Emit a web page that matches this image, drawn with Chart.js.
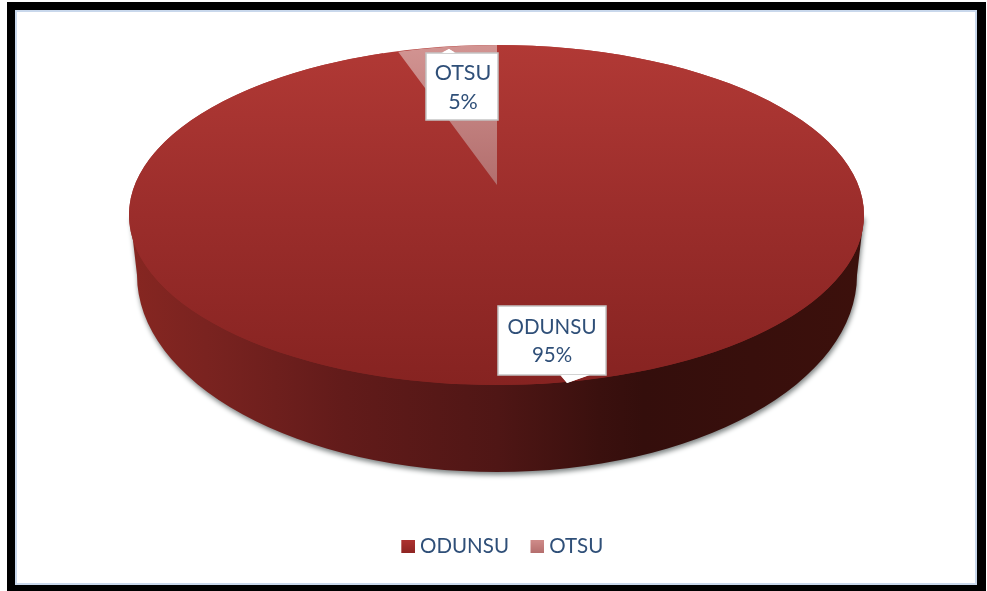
<!DOCTYPE html>
<html>
<head>
<meta charset="utf-8">
<style>html,body{margin:0;padding:0;background:#fff}canvas{display:block}</style>
<script src="https://cdn.jsdelivr.net/npm/chart.js@4"></script>
</head>
<body>
<canvas id="c" width="987" height="591"></canvas>
<script>
const categories = ['ODUNSU', 'OTSU'];
const values = [95, 5];
const legendColors = ['#a32c2a', '#c77f7e'];

const TOP = {cx: 496.5, cy: 215, rx: 367.5, ry: 170};
const BOTTOM = {cx: 497, cy: 275, rx: 360, ry: 197};
const SLICE = {cx: 497, cy: 185, rx: 320, ry: 140};
const FONT = '"Lato", "Open Sans", sans-serif';
const TEXT = '#2f4f78';

function topGradient(ctx, y0, y1) {
  const g = ctx.createLinearGradient(0, y0, 0, y1);
  g.addColorStop(0, '#b13935');
  g.addColorStop(0.5, '#9b2d2b');
  g.addColorStop(1, '#862321');
  return g;
}
function sliceColor(context) {
  const a = context.chart.chartArea;
  if (!a) return legendColors[1];
  const g = context.chart.ctx.createLinearGradient(0, a.top, 0, a.bottom);
  g.addColorStop(0, '#d29492');
  g.addColorStop(0.5, '#b26e6d');
  g.addColorStop(1, '#a06060');
  return g;
}
function arcColor(context) {
  if (context.dataIndex === 1) return sliceColor(context);
  const a = context.chart.chartArea;
  if (!a) return legendColors[0];
  return topGradient(context.chart.ctx, a.top, a.bottom);
}
function legendSwatch(i) {
  const s = document.createElement('canvas');
  s.width = 20;
  s.height = 13;
  const c = s.getContext('2d');
  const g = c.createLinearGradient(0, 0, 0, 13);
  g.addColorStop(0, i === 0 ? '#ad3230' : '#cf8b89');
  g.addColorStop(1, i === 0 ? '#8e2523' : '#b46e6d');
  c.fillStyle = g;
  c.fillRect(6, 0, 14, 13);
  return s;
}

const scene = {
  id: 'scene',
  beforeDraw(chart) {
    const c = chart.ctx;
    c.save();
    c.fillStyle = '#fff';
    c.fillRect(0, 0, 987, 591);
    c.fillStyle = '#000';
    c.fillRect(7, 2, 979, 589);
    c.fillStyle = '#c9d8ec';
    c.fillRect(15, 10, 962, 575);
    c.fillStyle = '#fff';
    c.fillRect(17, 12, 958, 571);
    c.restore();
  },
  beforeDatasetsDraw(chart) {
    const c = chart.ctx;
    c.save();
    const wall = c.createLinearGradient(133, 0, 862, 0);
    wall.addColorStop(0, '#862621');
    wall.addColorStop(0.1, '#7a2320');
    wall.addColorStop(0.29, '#621b1a');
    wall.addColorStop(0.5, '#4f1615');
    wall.addColorStop(0.64, '#3a100e');
    wall.addColorStop(0.7, '#340e0c');
    wall.addColorStop(1, '#3c100c');
    c.beginPath();
    c.ellipse(BOTTOM.cx, BOTTOM.cy, BOTTOM.rx, BOTTOM.ry, 0, 0, Math.PI * 2);
    c.moveTo(130, 215);
    c.lineTo(864, 215);
    c.lineTo(BOTTOM.cx + BOTTOM.rx, BOTTOM.cy);
    c.lineTo(BOTTOM.cx - BOTTOM.rx, BOTTOM.cy);
    c.closePath();
    c.shadowColor = 'rgba(40,50,50,0.6)';
    c.shadowBlur = 5;
    c.shadowOffsetX = 1;
    c.shadowOffsetY = 3;
    c.fillStyle = wall;
    c.fill('nonzero');
    c.restore();
    c.save();
    c.beginPath();
    c.ellipse(TOP.cx, TOP.cy, TOP.rx, TOP.ry, 0, 0, Math.PI * 2);
    c.fillStyle = topGradient(c, TOP.cy - TOP.ry, TOP.cy + TOP.ry);
    c.fill();
    c.restore();
  },
  beforeDatasetDraw(chart, args) {
    const c = chart.ctx;
    args.meta.data.forEach((arc, i) => {
      const t = i === 0 ? TOP : SLICE;
      c.save();
      c.translate(t.cx, t.cy);
      c.scale(t.rx / arc.outerRadius, t.ry / arc.outerRadius);
      c.translate(-arc.x, -arc.y);
      arc.draw(c);
      c.restore();
    });
    return false;
  },
  afterDatasetsDraw(chart) {
    const c = chart.ctx;
    const boxes = [
      {x: 498, y: 306, w: 108, h: 69, tip: [[560, 375], [567, 383], [590, 375]], tx: 552, ly: [327, 355]},
      {x: 426, y: 53, w: 72, h: 67, tip: [[441, 53], [449, 49], [456, 53]], tx: 463, ly: [73, 102]}
    ];
    boxes.forEach((b, i) => {
      c.save();
      c.beginPath();
      c.rect(b.x, b.y, b.w, b.h);
      c.moveTo(b.tip[0][0], b.tip[0][1]);
      c.lineTo(b.tip[1][0], b.tip[1][1]);
      c.lineTo(b.tip[2][0], b.tip[2][1]);
      c.closePath();
      c.fillStyle = '#fff';
      c.fill('nonzero');
      c.strokeStyle = '#c4c4c4';
      c.lineWidth = 1.5;
      c.strokeRect(b.x, b.y, b.w, b.h);
      c.fillStyle = '#fff';
      c.beginPath();
      c.moveTo(b.tip[0][0] + 1, b.tip[0][1]);
      c.lineTo(b.tip[1][0], b.tip[1][1]);
      c.lineTo(b.tip[2][0] - 1, b.tip[2][1]);
      c.closePath();
      c.fill();
      c.fillStyle = TEXT;
      c.font = (i === 0 ? '20.5px ' : '21.5px ') + FONT;
      c.textAlign = 'center';
      c.textBaseline = 'middle';
      c.fillText(categories[i], b.tx, b.ly[0]);
      c.fillText(values[i] + '%', b.tx, b.ly[1]);
      c.restore();
    });
  }
};

new Chart(document.getElementById('c'), {
  type: 'pie',
  plugins: [scene],
  data: {
    labels: categories,
    datasets: [{
      data: values,
      backgroundColor: arcColor,
      borderWidth: 0
    }]
  },
  options: {
    responsive: false,
    animation: false,
    events: [],
    layout: {padding: {left: 17, right: 0, top: 20, bottom: 24}},
    plugins: {
      tooltip: {enabled: false},
      legend: {
        position: 'bottom',
        labels: {
          usePointStyle: true,
          pointStyleWidth: 9,
          boxHeight: 13,
          padding: 21,
          color: TEXT,
          font: {family: FONT, size: 20.5},
          generateLabels(chart) {
            return Chart.overrides.pie.plugins.legend.labels.generateLabels(chart).map((l, i) => {
              l.pointStyle = legendSwatch(i);
              return l;
            });
          }
        }
      }
    }
  }
});
</script>
</body>
</html>
